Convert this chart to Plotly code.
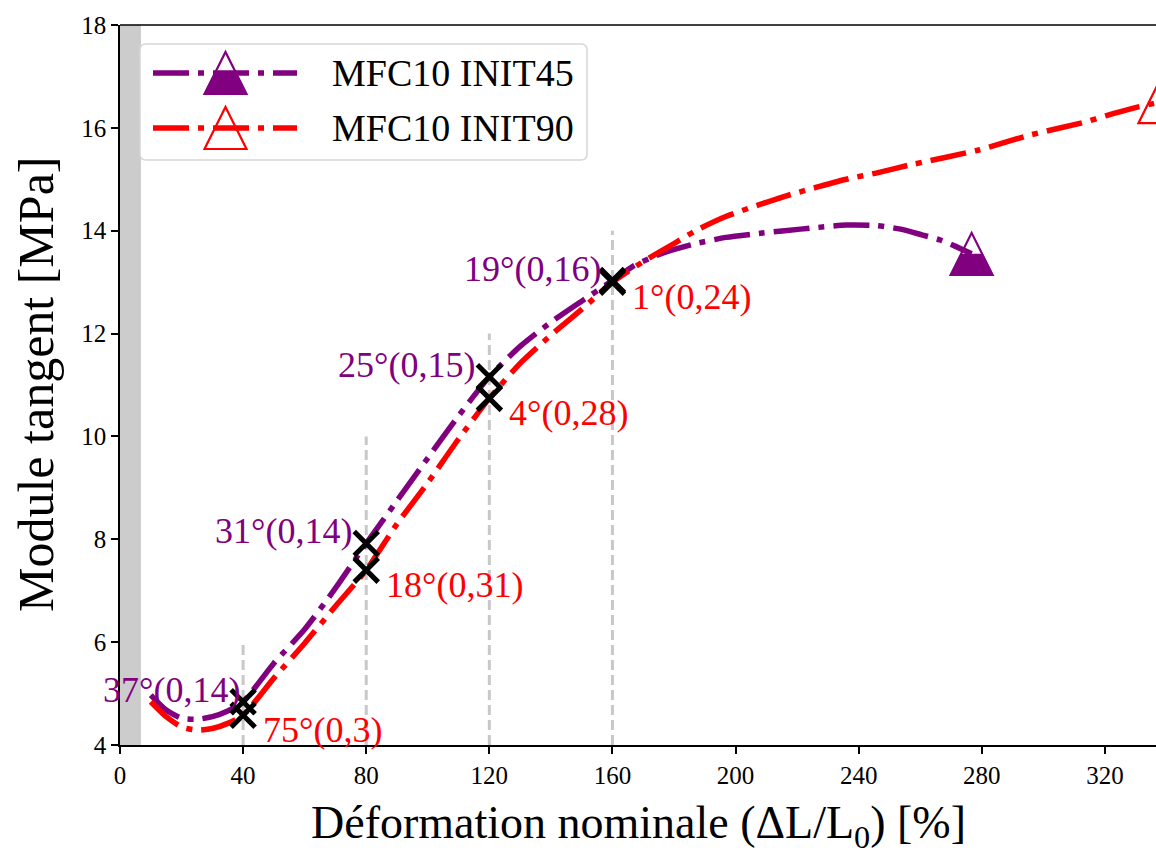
import plotly.graph_objects as go

# ---------------- data ----------------
series_names = ["MFC10 INIT45", "MFC10 INIT90"]
x45 = [10, 15, 20, 25, 30, 35, 40, 50, 60, 70, 80, 90, 100, 110, 120, 130, 140, 150, 160,
       167, 172, 177, 187, 197, 208, 216, 226, 236, 246, 253.6, 260.5, 266.4, 271.3, 276.7]
y45 = [4.97, 4.68, 4.52, 4.50, 4.55, 4.66, 4.84, 5.59, 6.25, 7.05, 7.92, 8.75, 9.58, 10.4,
       11.16, 11.75, 12.22, 12.63, 13.03, 13.32, 13.46, 13.58, 13.75, 13.87, 13.95, 14.0, 14.06, 14.11,
       14.1, 14.03, 13.92, 13.82, 13.7, 13.55]
x90 = [10, 15, 20, 25, 30, 35, 40, 50, 60, 70, 80, 90, 100, 110, 120, 130, 140, 150, 160, 170,
       180, 187, 197, 216, 236, 247, 256, 279, 295, 314, 320.5, 329, 337.7]
y90 = [4.84, 4.55, 4.35, 4.29, 4.32, 4.42, 4.58, 5.3, 5.98, 6.7, 7.40, 8.3, 9.1, 9.95, 10.74,
       11.42, 11.97, 12.47, 13.0, 13.4, 13.75, 14.0, 14.28, 14.67, 15.0, 15.14, 15.27, 15.57, 15.85,
       16.12, 16.24, 16.38, 16.5]
probe_x = [40, 80, 120, 160]
probe_y45 = [4.84, 7.92, 11.16, 13.03]
probe_y90 = [4.58, 7.40, 10.74, 13.0]
guide_top = [6, 10, 12, 14]
labels45 = ["37°(0,14)", "31°(0,14)", "25°(0,15)", "19°(0,16)"]
labels90 = ["75°(0,3)", "18°(0,31)", "4°(0,28)", "1°(0,24)"]
band_x = [0, 6.8]
x_ticks = list(range(0, 321, 40))
y_ticks = list(range(4, 19, 2))
x_range = [0, 336.6]
y_range = [4, 18]

# ---------------- style ----------------
PURPLE = "#800080"
RED = "#ff0000"
FONT = "Liberation Serif"
W, H = 1156, 861
ML, MT, MR, MB = 120, 25, 0, 116
PW, PH = W - ML - MR, H - MT - MB
DASHDOT = "36px,9px,6px,9px"
LW = 5.5

def pxx(px):
    return (px - ML) / PW

def pxy(py):
    return (H - MB - py) / PH

fig = go.Figure()

# vertical guide lines
for gx, gt in zip(probe_x, guide_top):
    fig.add_trace(go.Scatter(x=[gx, gx], y=[y_range[0], gt], mode="lines",
                             line=dict(color="#c8c8c8", width=3, dash="10px,5px"),
                             showlegend=False, hoverinfo="skip"))

# curves
for xs, ys, col in [(x45, y45, PURPLE), (x90, y90, RED)]:
    fig.add_trace(go.Scatter(x=xs, y=ys, mode="lines",
                             line=dict(color=col, width=LW, dash=DASHDOT, shape="spline", smoothing=0.6),
                             showlegend=False, hoverinfo="skip"))

# probe crosses
for ys in (probe_y45, probe_y90):
    fig.add_trace(go.Scatter(x=probe_x, y=ys, mode="markers",
                             marker=dict(symbol="x-thin", size=24, line=dict(color="black", width=5)),
                             showlegend=False, hoverinfo="skip"))

# annotations near crosses
shift45 = [-1, -12, -12, -9]
for xv, yv, t, sh in zip(probe_x, probe_y45, labels45, shift45):
    fig.add_annotation(x=xv, y=yv, text=t, showarrow=False, xanchor="right", yanchor="middle",
                       xshift=sh, yshift=12, font=dict(family=FONT, size=36, color=PURPLE))
for xv, yv, t in zip(probe_x, probe_y90, labels90):
    fig.add_annotation(x=xv, y=yv, text=t, showarrow=False, xanchor="left", yanchor="middle",
                       xshift=18, yshift=-15, font=dict(family=FONT, size=36, color=RED))

# shaded band
fig.add_vrect(x0=band_x[0], x1=band_x[1], fillcolor="#cccccc", line_width=0, layer="below", opacity=1)

# triangle marker helpers (pixel-sized shapes)
S = 42
def tri_outline(s):
    h = s / 2
    return f"M{-h},{-h} L{h},{-h} L0,{h} Z"

def tri_bottom(s):
    h = s / 2
    return f"M{-h},{-h} L{h},{-h} L{h/2},0 L{-h/2},0 Z"

def add_triangle(xa, ya, color, half_filled, xref="x", yref="y"):
    common = dict(xref=xref, yref=yref, xsizemode="pixel", ysizemode="pixel",
                  xanchor=xa, yanchor=ya, layer="above")
    if half_filled:
        fig.add_shape(type="path", path=tri_bottom(S), fillcolor=color, line=dict(width=0), **common)
    fig.add_shape(type="path", path=tri_outline(S), fillcolor="rgba(0,0,0,0)",
                  line=dict(color=color, width=2.2), **common)

add_triangle(x45[-1], y45[-1], PURPLE, True)
add_triangle(x90[-1], y90[-1], RED, False)

# top spine
fig.add_shape(type="line", xref="paper", yref="paper", x0=0, x1=1, y0=1, y1=1,
              line=dict(color="black", width=1.5), layer="above")

# ---------------- manual legend ----------------
bx0, bx1, by0, by1, r = 140, 587, 44, 160, 6
rx, ry = r / PW, r / PH
X0, X1, Y0, Y1 = pxx(bx0), pxx(bx1), pxy(by1), pxy(by0)
legend_path = (f"M{X0+rx},{Y0} L{X1-rx},{Y0} Q{X1},{Y0} {X1},{Y0+ry} L{X1},{Y1-ry} "
               f"Q{X1},{Y1} {X1-rx},{Y1} L{X0+rx},{Y1} Q{X0},{Y1} {X0},{Y1-ry} "
               f"L{X0},{Y0+ry} Q{X0},{Y0} {X0+rx},{Y0} Z")
fig.add_shape(type="path", xref="paper", yref="paper", path=legend_path,
              fillcolor="rgba(255,255,255,0.85)", line=dict(color="#d6d6d6", width=1.5), layer="above")
rows_y = [73, 128]
for name, col, half, ry_px in zip(series_names, [PURPLE, RED], [True, False], rows_y):
    fig.add_shape(type="line", xref="paper", yref="paper", x0=pxx(153), x1=pxx(297),
                  y0=pxy(ry_px), y1=pxy(ry_px), line=dict(color=col, width=LW, dash=DASHDOT), layer="above")
    add_triangle(pxx(225.5), pxy(ry_px), col, half, xref="paper", yref="paper")
    fig.add_annotation(xref="paper", yref="paper", x=pxx(330), y=pxy(ry_px), text=name,
                       showarrow=False, xanchor="left", yanchor="middle",
                       font=dict(family=FONT, size=38, color="black"))

# axis titles
fig.add_annotation(xref="paper", yref="paper", x=0.5, y=pxy(826), text="Déformation nominale (ΔL/L<sub>0</sub>) [%]",
                   showarrow=False, xanchor="center", yanchor="middle",
                   font=dict(family=FONT, size=46, color="black"))
fig.add_annotation(xref="paper", yref="paper", x=pxx(36), y=0.5, text="Module tangent [MPa]",
                   showarrow=False, xanchor="center", yanchor="middle", textangle=-90,
                   font=dict(family=FONT, size=50, color="black"))

axis_common = dict(showgrid=False, zeroline=False, showline=True, linecolor="black", linewidth=1.5,
                   ticks="outside", ticklen=7, tickwidth=1.5, tickcolor="black",
                   tickfont=dict(family=FONT, size=25, color="black"))
fig.update_xaxes(range=x_range, tickvals=x_ticks, **axis_common)
fig.update_yaxes(range=y_range, tickvals=y_ticks, **axis_common)

fig.update_layout(width=W, height=H, margin=dict(l=ML, r=MR, t=MT, b=MB),
                  plot_bgcolor="white", paper_bgcolor="white", showlegend=False)

fig.write_html("out.html", config={"displayModeBar": False},
               post_script="document.body.style.margin='0';document.body.style.overflow='hidden';")
